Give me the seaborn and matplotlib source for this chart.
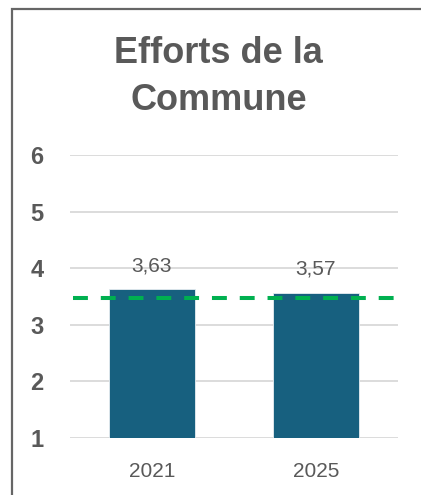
"""
Efforts de la Commune - barplot 2021 / 2025
"""
import matplotlib
matplotlib.use('Agg')
import matplotlib.pyplot as plt
import matplotlib.patches as patches
import seaborn as sns
import pandas as pd

# données
annees = ['2021', '2025']
scores = [3.63, 3.57]
labels_valeurs = ['3,63', '3,57']
reference = 3.48
y_ticks = [1, 2, 3, 4, 5, 6]

sns.set_style('white')
plt.rcParams['font.family'] = ['Liberation Sans', 'DejaVu Sans']

GRIS = '#595959'
BLEU = '#17607f'
VERT = '#00b050'

df = pd.DataFrame({'annee': annees, 'score': scores})

fig = plt.figure(figsize=(4.21, 4.95), dpi=100)
ax = fig.add_axes([70 / 421, 1 - 438 / 495, 328 / 421, 283 / 495])

sns.barplot(data=df, x='annee', y='score', color=BLEU, width=0.525,
            saturation=1, edgecolor='#e8eef2', linewidth=0.6, ax=ax, zorder=3)

ax.set_ylim(1, 6)
ax.set_xlim(-0.5, 1.5)
ax.set_yticks(y_ticks)
ax.yaxis.grid(True, color='#d9d9d9', linewidth=1.3, zorder=0)
ax.set_axisbelow(True)
for s in ax.spines.values():
    s.set_visible(False)
ax.tick_params(axis='both', length=0)
ax.tick_params(axis='y', labelsize=17, labelcolor=GRIS, pad=19)
ax.tick_params(axis='x', labelsize=15, labelcolor=GRIS, pad=17)
for t in ax.get_yticklabels():
    t.set_fontweight('bold')
ax.set_xlabel('')
ax.set_ylabel('')

# étiquettes de valeur
for i, (v, lab) in enumerate(zip(scores, labels_valeurs)):
    ax.annotate(lab, (i, v), xytext=(0, 13), textcoords='offset points',
                ha='center', va='baseline', fontsize=15, color=GRIS)

# ligne de référence
ax.axhline(reference, xmin=0.01, xmax=0.99, color=VERT, linewidth=2.9,
           linestyle=(0, (3.7, 3.2)), zorder=4)

# titre
fig.text(218 / 421, 1 - 63 / 495, 'Efforts de la', ha='center', va='baseline',
         fontsize=26, fontweight='bold', color=GRIS)
fig.text(219 / 421, 1 - 110 / 495, 'Commune', ha='center', va='baseline',
         fontsize=26, fontweight='bold', color=GRIS)

# cadre
cadre = patches.Rectangle((12 / 421, -0.1), 1.2, 1.1 - 9 / 495,
                          transform=fig.transFigure, fill=False,
                          edgecolor='#666666', linewidth=1.6)
fig.patches.append(cadre)

fig.savefig('out.png', dpi=100)
